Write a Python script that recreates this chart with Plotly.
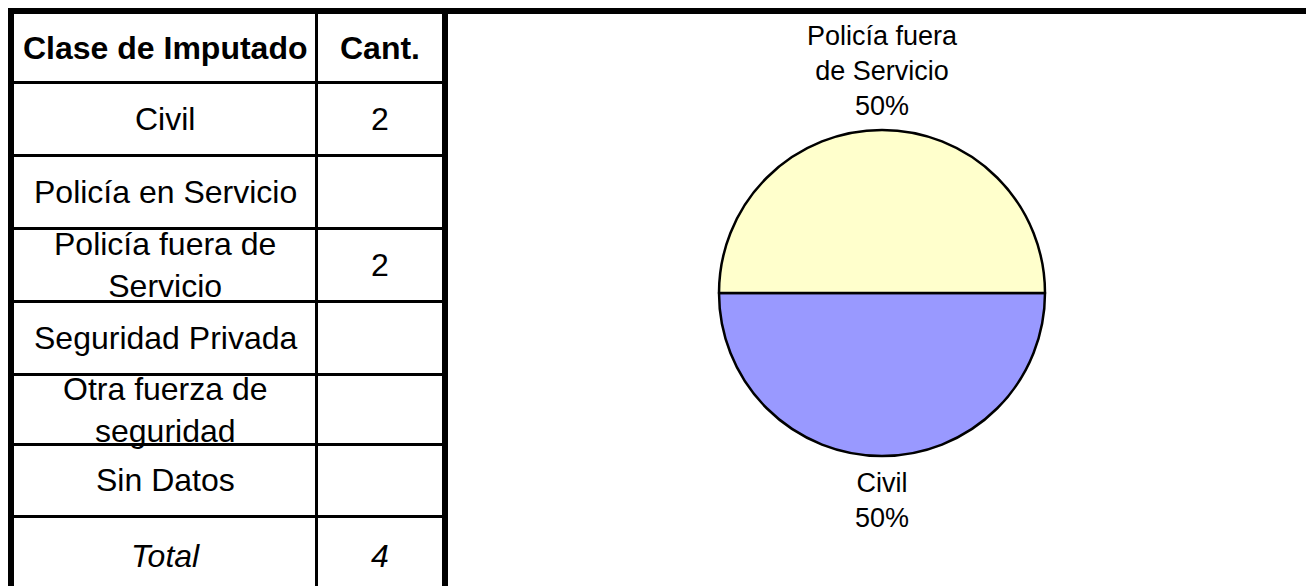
import math
import textwrap
import plotly.graph_objects as go

# ---------------- data ----------------
header = ["Clase de Imputado", "Cant."]
categories = ["Civil", "Policía en Servicio", "Policía fuera de Servicio",
              "Seguridad Privada", "Otra fuerza de seguridad", "Sin Datos"]
cell_labels = ["Civil", "Policía en Servicio", "Policía fuera de<br>Servicio",
               "Seguridad Privada", "Otra fuerza de<br>seguridad", "Sin Datos"]
counts = [2, None, 2, None, None, None]
total_label = "Total"
total = sum(c for c in counts if c)

W, H = 1314, 586
OFF = 8  # page body margin: screen px -> figure px
FONT = "Liberation Sans, Arial, sans-serif"


def px(x):
    return (x - OFF) / W


def py(y):
    return 1 - (y - OFF) / H


# ---------------- pie ----------------
pie_labels = [c for c, v in zip(categories, counts) if v]
pie_values = [v for v in counts if v]
pie_text = ["<br>".join(textwrap.wrap(c, 13)) for c in pie_labels]
colors = {"Civil": "#9999FF", "Policía fuera de Servicio": "#FFFFCC"}

cx, cy, r = 882, 293, 163
fig = go.Figure()
fig.add_trace(go.Pie(
    labels=pie_labels, values=pie_values,
    textinfo="none",
    marker=dict(colors=[colors[c] for c in pie_labels], line=dict(color="black", width=2.5)),
    sort=False, direction="clockwise", rotation=90,
    domain=dict(x=[px(cx - r), px(cx + r)], y=[py(cy + r), py(cy - r)]),
    showlegend=False, automargin=False, hoverinfo="label+value+percent",
))

annotations = []
# outside labels for slices (start at 3 o'clock, clockwise)
start = 90.0
tot_pie = sum(pie_values)
for lab, txt, v in zip(pie_labels, pie_text, pie_values):
    span = 360.0 * v / tot_pie
    mid = start + span / 2  # clockwise from 12 o'clock
    start += span
    a = math.radians(mid)
    above = math.cos(a) > 0
    gap = 7 if above else 10
    lx = cx + (r + gap) * math.sin(a)
    ly = cy - (r + gap) * math.cos(a)
    annotations.append(dict(
        x=px(lx), y=py(ly), xref="paper", yref="paper", showarrow=False,
        text=f"{txt}<br>{v / tot_pie:.0%}", align="center",
        xanchor="center", yanchor="bottom" if above else "top",
        font=dict(family=FONT, size=27, color="black")))

# ---------------- table ----------------
shapes = []


def rect(x0, y0, x1, y1):
    shapes.append(dict(type="rect", xref="paper", yref="paper",
                       x0=px(x0), x1=px(x1), y0=py(y1), y1=py(y0),
                       fillcolor="black", line=dict(width=0), layer="above"))


rect(8, 8, W + OFF, 14)    # top bar
rect(8, 8, 14, H + OFF)    # left border
rect(442, 8, 448, H + OFF)  # right table border
rect(315, 14, 318, H + OFF)  # column separator
row_lines = [81, 154, 227, 300, 373, 443, 515]
for yl in row_lines:
    rect(14, yl, 442, yl + 3)

col_x = [165, 380]


def cell(x, y, text, size=32, bold=False, italic=False):
    t = f"<b>{text}</b>" if bold else text
    t = f"<i>{t}</i>" if italic else t
    annotations.append(dict(x=px(x), y=py(y), xref="paper", yref="paper",
                            text=t, showarrow=False, xanchor="center", yanchor="middle",
                            font=dict(family=FONT, size=size, color="black")))


header_y = (14 + row_lines[0]) / 2
cell(col_x[0], header_y, header[0], bold=True)
cell(col_x[1], header_y, header[1], bold=True)
bounds = row_lines
for i, (lab, val) in enumerate(zip(cell_labels, counts)):
    yc = (bounds[i] + 3 + bounds[i + 1]) / 2
    cell(col_x[0], yc, lab)
    if val:
        cell(col_x[1], yc, str(val))
cell(col_x[0], 556, total_label, italic=True)
cell(col_x[1], 556, str(total), italic=True)

fig.update_layout(
    width=W, height=H, autosize=False,
    margin=dict(l=0, r=0, t=0, b=0),
    paper_bgcolor="white", plot_bgcolor="white",
    shapes=shapes, annotations=annotations,
    font=dict(family=FONT, color="black"),
)
fig.write_html("out.html")
